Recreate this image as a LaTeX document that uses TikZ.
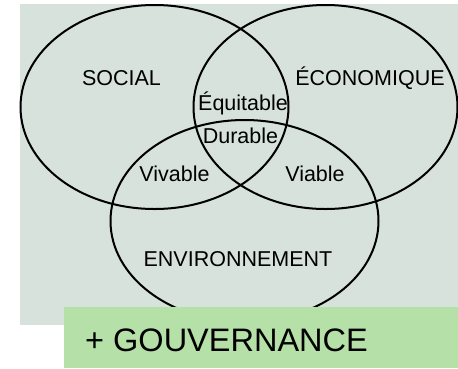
\documentclass[tikz,border=0pt]{standalone}
\usepackage{fontspec}
\setmainfont{Liberation Sans}
\definecolor{bggray}{RGB}{215,226,220}
\definecolor{govgreen}{RGB}{181,224,168}
\begin{document}
\begin{tikzpicture}[x=1pt,y=-1pt,
  venn/.style={draw=black,line width=2pt},
  lbl/.style={font=\fontsize{21.5}{24}\selectfont,anchor=base,inner sep=0pt},
  gov/.style={font=\fontsize{32.5}{36}\selectfont,anchor=base west,inner sep=0pt}]
\useasboundingbox (0,0) rectangle (458,368);
\fill[bggray] (20,4) rectangle (458,325);
\draw[venn] (154.5,107) ellipse [x radius=134, y radius=102];
\draw[venn] (325.5,107) ellipse [x radius=132, y radius=102];
\draw[venn] (244.5,221) ellipse [x radius=134, y radius=101];
\fill[govgreen] (64,307) rectangle (458,368);
\node[lbl] (social) at (121.5,85) {SOCIAL};
\node[lbl] (eco) at (370,85) {ÉCONOMIQUE};
\node[lbl] (equi) at (243,110) {Équitable};
\node[lbl] (dur) at (240.5,143) {Durable};
\node[lbl] (viv) at (174.5,181) {Vivable};
\node[lbl] (via) at (315,181) {Viable};
\node[lbl] (env) at (238,266) {ENVIRONNEMENT};
\node[gov] (gouv) at (85,351) {+ GOUVERNANCE};
\end{tikzpicture}
\end{document}
